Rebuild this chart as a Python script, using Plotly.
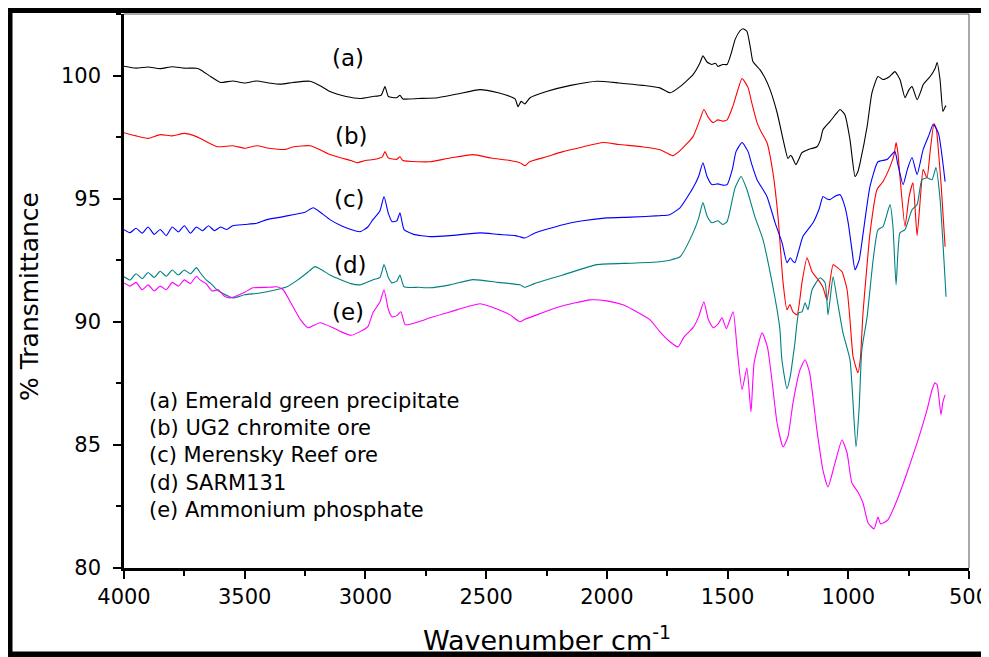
import plotly.graph_objects as go

# ---- data (wavenumber cm-1, % transmittance) ----
wn_a = [4000,3950,3900,3850,3800,3750,3700,3685,3640,3600,3550,3500,3450,3400,3350,3300,3230,3180,3147,3080,3022,2970,2935,2919,2905,2870,2857,2845,2780,2700,2620,2525,2450,2401,2380,2368,2355,2340,2318,2250,2150,2041,1950,1850,1780,1738,1697,1643,1615,1602,1585,1565,1550,1540,1520,1502,1485,1469,1450,1436,1420,1405,1395,1366,1345,1324,1295,1270,1250,1240,1233,1217,1205,1192,1167,1130,1115,1105,1076,1050,1034,1014,993,972,960,951,922,902,877,856,830,807,786,765,750,736,715,700,690,661,640,632,620,608,600,595]
t_a = [100.38,100.30,100.35,100.28,100.36,100.30,100.30,100.25,99.95,99.72,99.78,99.70,99.78,99.70,99.65,99.72,99.77,99.55,99.35,99.15,99.07,99.15,99.20,99.55,99.15,99.10,99.20,99.05,99.07,99.10,99.25,99.43,99.30,99.15,99.05,98.74,98.95,98.85,99.10,99.35,99.60,99.77,99.70,99.60,99.50,99.30,99.55,100.04,100.50,100.80,100.55,100.45,100.50,100.37,100.45,100.45,100.90,101.46,101.80,101.90,101.80,101.10,100.57,100.24,99.90,99.43,98.50,97.40,96.63,96.75,96.70,96.38,96.60,96.87,96.99,97.11,97.40,97.80,98.13,98.45,98.62,98.41,97.40,95.90,96.10,96.46,97.93,99.30,99.96,99.84,99.95,100.16,99.84,99.10,99.40,99.55,99.02,99.35,99.63,99.96,100.30,100.53,99.84,98.54,98.70,98.78]

wn_b = [4000,3950,3900,3850,3800,3750,3700,3685,3615,3550,3500,3450,3400,3330,3300,3230,3190,3147,3100,3060,3035,3000,2960,2930,2919,2905,2870,2857,2845,2780,2733,2650,2554,2480,2400,2360,2339,2320,2250,2182,2100,2016,1950,1850,1780,1750,1726,1697,1643,1615,1598,1580,1560,1540,1520,1502,1480,1461,1440,1415,1400,1378,1360,1337,1312,1291,1270,1254,1242,1229,1212,1192,1171,1150,1125,1105,1088,1063,1045,1026,1005,993,980,960,950,939,925,910,881,856,827,810,802,795,786,765,748,732,715,700,690,674,660,645,635,628,615,599]
t_b = [97.68,97.55,97.45,97.60,97.55,97.65,97.52,97.45,97.11,97.15,97.05,97.15,97.05,97.00,97.10,97.15,97.00,96.79,96.65,96.55,96.46,96.55,96.60,96.70,96.91,96.65,96.60,96.70,96.55,96.50,96.50,96.65,96.79,96.65,96.55,96.46,96.34,96.50,96.70,96.91,97.10,97.28,97.20,97.10,96.99,96.85,96.75,96.95,97.52,98.20,98.62,98.30,98.09,98.20,98.15,98.20,98.70,99.30,99.88,99.51,98.90,98.09,97.70,97.28,96.05,94.27,91.58,90.49,90.70,90.40,90.28,91.58,92.60,92.03,91.71,91.40,90.89,92.32,92.20,92.03,91.30,90.08,88.58,87.93,88.50,90.37,92.00,93.60,95.37,95.70,96.30,96.80,97.28,96.90,95.90,93.87,95.09,95.64,93.50,95.20,96.18,95.85,97.00,98.05,97.80,97.11,95.50,93.05]

wn_c = [4000,3975,3950,3925,3900,3875,3850,3825,3800,3775,3750,3725,3700,3675,3650,3625,3600,3575,3550,3500,3450,3408,3350,3300,3250,3217,3180,3147,3100,3060,3022,2990,2969,2940,2923,2905,2890,2870,2857,2840,2800,2733,2650,2525,2450,2380,2360,2340,2300,2182,2100,2000,1900,1780,1740,1697,1643,1620,1602,1585,1565,1540,1520,1502,1480,1465,1440,1415,1400,1378,1337,1303,1274,1254,1240,1229,1221,1205,1188,1146,1120,1105,1090,1076,1055,1034,1014,1000,985,972,955,944,910,877,840,807,795,773,755,736,715,690,665,649,638,625,610,599]
t_c = [93.74,93.62,93.80,93.60,93.85,93.55,93.75,93.50,93.85,93.65,93.90,93.60,93.85,93.70,93.90,93.70,93.85,93.75,93.90,93.95,94.00,94.15,94.25,94.35,94.45,94.63,94.40,94.15,93.90,93.75,93.66,93.85,94.15,94.50,95.09,94.40,94.07,94.10,94.43,93.74,93.55,93.46,93.50,93.61,93.55,93.50,93.45,93.40,93.60,93.94,94.10,94.22,94.25,94.31,94.35,94.63,95.44,95.90,96.46,95.90,95.57,95.60,95.55,95.57,96.20,96.91,97.28,96.91,96.40,95.77,95.09,94.02,93.20,92.40,92.60,92.45,92.40,92.90,93.46,94.02,94.60,95.09,95.00,94.96,95.10,95.16,94.68,94.00,92.93,92.11,92.50,93.20,95.50,96.50,96.59,96.91,96.40,95.57,96.20,96.67,95.98,96.99,97.60,98.01,97.89,97.60,96.60,95.69]

wn_d = [4000,3975,3950,3925,3900,3875,3850,3825,3800,3775,3750,3725,3700,3685,3660,3640,3615,3590,3548,3500,3450,3408,3370,3325,3280,3240,3209,3180,3147,3100,3060,3022,2970,2940,2923,2905,2890,2870,2857,2840,2780,2733,2650,2554,2450,2360,2340,2300,2182,2041,1900,1780,1740,1697,1643,1620,1602,1585,1565,1540,1520,1502,1469,1444,1420,1387,1353,1312,1295,1283,1275,1254,1240,1221,1205,1192,1179,1167,1150,1117,1096,1084,1063,1046,1022,993,968,955,944,922,897,877,856,827,815,802,786,765,736,715,695,674,653,637,620,595]
t_d = [91.83,91.70,91.95,91.75,92.00,91.80,92.05,91.85,92.10,91.90,92.10,91.95,92.20,92.00,91.70,91.55,91.30,91.15,90.97,91.10,91.15,91.22,91.30,91.42,91.70,92.00,92.24,92.10,91.90,91.70,91.55,91.50,91.70,91.80,92.32,91.80,91.58,91.65,91.90,91.42,91.40,91.38,91.50,91.71,91.60,91.50,91.40,91.55,91.90,92.32,92.38,92.44,92.50,92.64,93.61,94.20,94.84,94.30,94.02,94.10,93.95,94.07,95.44,95.90,95.37,94.27,93.33,91.42,90.49,89.67,88.46,87.28,87.80,89.15,90.37,90.40,90.77,90.49,91.30,91.79,91.58,90.28,91.83,90.89,89.55,88.46,84.92,86.50,88.86,90.20,92.52,93.74,93.87,94.76,93.87,91.50,93.61,93.74,94.55,94.76,95.77,95.85,95.77,96.26,95.00,91.02]

wn_e = [4000,3975,3950,3925,3900,3875,3850,3825,3800,3775,3750,3725,3700,3685,3660,3635,3610,3585,3560,3500,3466,3400,3367,3341,3300,3270,3238,3188,3134,3100,3060,3022,2990,2969,2940,2923,2905,2890,2870,2853,2835,2780,2733,2650,2525,2450,2401,2360,2340,2290,2200,2070,2000,1933,1892,1821,1780,1740,1705,1680,1643,1620,1598,1580,1560,1540,1523,1505,1477,1460,1440,1420,1403,1390,1357,1335,1315,1295,1270,1250,1229,1200,1179,1160,1130,1105,1084,1055,1026,1005,985,960,939,918,893,877,866,836,798,757,715,674,653,641,632,616,608,599]
t_e = [91.58,91.45,91.60,91.30,91.50,91.25,91.45,91.30,91.60,91.45,91.70,91.55,91.85,91.70,91.55,91.25,91.30,91.05,90.97,91.20,91.38,91.40,91.42,91.30,90.61,90.10,89.76,89.96,89.76,89.59,89.45,89.60,89.80,90.37,90.80,91.30,90.50,90.20,90.25,90.41,89.88,90.00,90.16,90.40,90.73,90.50,90.28,90.00,90.10,90.28,90.60,90.89,90.85,90.69,90.49,90.08,89.59,89.20,88.98,89.39,89.76,90.20,90.81,90.10,89.76,89.90,90.16,89.72,90.41,88.86,87.24,88.13,86.34,88.33,89.55,88.98,87.52,85.89,84.92,85.33,86.71,88.05,88.46,87.93,85.61,83.98,83.29,84.27,85.20,84.67,83.45,83.09,82.64,81.83,81.59,82.07,81.79,81.95,82.76,83.86,85.08,86.42,87.24,87.52,87.44,86.22,86.75,87.03]

series = [
    ("(a)", wn_a, t_a, "#000000"),
    ("(b)", wn_b, t_b, "#ff0000"),
    ("(c)", wn_c, t_c, "#0000ff"),
    ("(d)", wn_d, t_d, "#008080"),
    ("(e)", wn_e, t_e, "#ff00ff"),
]

curve_labels = ["(a)", "(b)", "(c)", "(d)", "(e)"]
curve_label_x = [3072, 3056, 3066, 3060, 3072]
curve_label_y = [100.73, 97.55, 95.0, 92.3, 90.4]

legend_lines = ["(a) Emerald green precipitate", "(b) UG2 chromite ore",
                "(c) Merensky Reef ore", "(d) SARM131", "(e) Ammonium phosphate"]

FONT = "DejaVu Sans, Arial, sans-serif"

# page offset: the browser body adds an 8px margin around the figure
OFF = 8
W, H = 989 - OFF, 657 - OFF
PL, PR, PT, PB = 124, 969, 14, 568  # plot area in page pixels


def px(x):
    return (x - PL) / (PR - PL)


def py(y):
    return (PB - y) / (PB - PT)


fig = go.Figure()
for name, x, y, c in series:
    fig.add_trace(go.Scatter(x=x, y=y, mode="lines", name=name,
                             line=dict(color=c, width=1.1, shape="spline", smoothing=0.5)))

ann = []
for lab, lx, ly in zip(curve_labels, curve_label_x, curve_label_y):
    ann.append(dict(x=lx, y=ly, xref="x", yref="y", text=lab, showarrow=False,
                    xanchor="center", yanchor="middle",
                    font=dict(family=FONT, size=23, color="black")))

for i, t in enumerate(legend_lines):
    yy = 401 + i * 27.2
    ann.append(dict(x=px(147), y=py(yy), xref="paper", yref="paper",
                    text=t, showarrow=False, xanchor="left", yanchor="middle",
                    font=dict(family=FONT, size=21, color="black")))

ann.append(dict(x=px(30), y=py(297), xref="paper", yref="paper",
                text="% Transmittance", textangle=-90, showarrow=False,
                xanchor="center", yanchor="middle",
                font=dict(family=FONT, size=25, color="black")))
ann.append(dict(x=0.5, y=py(638), xref="paper", yref="paper",
                text="Wavenumber cm<sup>-1</sup>", showarrow=False,
                xanchor="center", yanchor="middle",
                font=dict(family=FONT, size=27, color="black")))

shapes = [
    dict(type="line", xref="paper", yref="paper", x0=0, x1=1, y0=1, y1=1,
         line=dict(color="#555555", width=1)),
    dict(type="line", xref="paper", yref="paper", x0=1, x1=1, y0=0, y1=1,
         line=dict(color="#555555", width=1)),
    dict(type="line", xref="paper", yref="paper", x0=px(8.5), x1=px(8.5),
         y0=py(662), y1=py(5.5), line=dict(color="black", width=8)),
    dict(type="line", xref="paper", yref="paper", x0=px(5), x1=px(995),
         y0=py(9.5), y1=py(9.5), line=dict(color="black", width=7)),
    dict(type="line", xref="paper", yref="paper", x0=px(5), x1=px(995),
         y0=py(654.5), y1=py(654.5), line=dict(color="black", width=6)),
]

fig.update_layout(
    width=W, height=H,
    margin=dict(l=PL - OFF, r=W - (PR - OFF), t=PT - OFF, b=H - (PB - OFF), autoexpand=False),
    paper_bgcolor="white", plot_bgcolor="white",
    showlegend=False,
    annotations=ann, shapes=shapes,
    font=dict(family=FONT, color="black"),
)
fig.update_xaxes(range=[4000, 500], tickvals=[4000, 3500, 3000, 2500, 2000, 1500, 1000, 500],
                 ticks="outside", ticklen=8, tickwidth=2, tickcolor="black",
                 showline=True, linecolor="black", linewidth=2.5, showgrid=False, zeroline=False,
                 tickfont=dict(family=FONT, size=21, color="black"), ticklabeloverflow="allow",
                 minor=dict(tickvals=[3750, 3250, 2750, 2250, 1750, 1250, 750],
                            ticks="outside", ticklen=5, tickwidth=2, tickcolor="black"))
fig.update_yaxes(range=[80, 102.5], tickvals=[80, 85, 90, 95, 100],
                 ticks="outside", ticklen=8, tickwidth=2, tickcolor="black",
                 showline=True, linecolor="black", linewidth=2.5, showgrid=False, zeroline=False,
                 tickfont=dict(family=FONT, size=21, color="black"), ticklabelstandoff=8,
                 minor=dict(tickvals=[82.5, 87.5, 92.5, 97.5, 102.5],
                            ticks="outside", ticklen=5, tickwidth=2, tickcolor="black"))

fig.write_html("out.html")
